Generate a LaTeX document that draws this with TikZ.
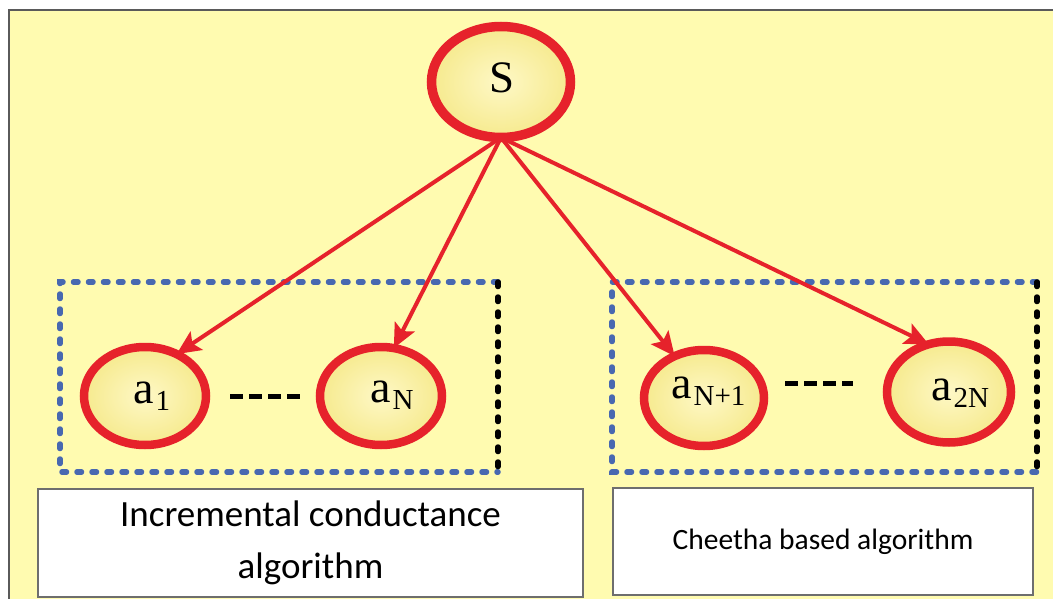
\documentclass[tikz,border=0pt]{standalone}
\usepackage{fontspec}
\setmainfont{Liberation Serif}
\newfontfamily\calibfont{Carlito}
\usetikzlibrary{shapes.geometric,arrows.meta}

\definecolor{bgyellow}{HTML}{FFFBB0}
\definecolor{framegray}{HTML}{5A5A5A}
\definecolor{bubred}{HTML}{E6222B}
\definecolor{bubin}{HTML}{FEF8C6}
\definecolor{bubout}{HTML}{F6EA8E}
\definecolor{groupblue}{HTML}{4868B0}
\definecolor{boxgray}{HTML}{6E6E6E}

\tikzset{
  bubble/.style={ellipse, draw=bubred, inner color=bubin, outer color=bubout,
                 inner sep=0pt, outer sep=0pt},
  lab/.style={anchor=base west, inner sep=0pt, font=\fontsize{46}{46}\selectfont},
  arr/.style={draw=bubred, line width=4pt,
              -{Stealth[length=24pt,width=22pt,inset=5pt]}},
  groupedge/.style={draw=groupblue, line width=5.5pt, line cap=round,
                    dash pattern=on 4.5pt off 10.5pt},
  groupside/.style={draw=black, line width=5.5pt, line cap=round,
                    dash pattern=on 4.5pt off 10.5pt},
  ellipsis/.style={draw=black, line width=5pt, dash pattern=on 13pt off 6pt},
  algbox/.style={rectangle, draw=boxgray, line width=2pt, fill=white,
                 inner sep=0pt, align=center}
}

\newcommand{\subtxt}[1]{\kern2pt\raisebox{-7pt}{\fontsize{29}{29}\selectfont #1}}

\begin{document}
\begin{tikzpicture}[x=1pt,y=-1pt]
\useasboundingbox (0,0) rectangle (1053,599);
\fill[white] (0,0) rectangle (1053,599);

% outer panel
\draw[fill=bgyellow, draw=framegray, line width=2.5pt] (9,10) rectangle (1075,625);

% group frames
\draw[groupedge] (498,282) -- (60,282) -- (60,472) -- (498,472);
\draw[groupside] (498,282) -- (498,472);
\draw[groupedge] (1037,282) -- (612,282) -- (612,472) -- (1037,472);
\draw[groupside] (1037,282) -- (1037,472);

% source node
\node[bubble, line width=9.5pt, minimum width=139pt, minimum height=111pt] (S) at (501,82) {};
\node[anchor=base, inner sep=0pt, font=\fontsize{45}{45}\selectfont] (Slab) at (502,93) {S};

% agent nodes
\node[bubble, line width=8.5pt, minimum width=122pt, minimum height=98pt] (a1) at (145,396) {};
\node[bubble, line width=8.5pt, minimum width=122pt, minimum height=98pt] (aN) at (381,396) {};
\node[bubble, line width=8.5pt, minimum width=120pt, minimum height=96pt] (aN1) at (704,398) {};
\node[bubble, line width=8.5pt, minimum width=124pt, minimum height=101pt] (a2N) at (949,392) {};

\node[lab] (a1lab) at (133,403) {a\subtxt{1}};
\node[lab] (aNlab) at (370,402) {a\subtxt{N}};
\node[lab] (aN1lab) at (671,398) {a\subtxt{N+1}};
\node[lab] (a2Nlab) at (931,400) {a\subtxt{2N}};

% ellipsis marks between agents
\draw[ellipsis] (230,396) -- (300,396);
\draw[ellipsis] (785,383) -- (853,383);

% connectors from the source
\draw[arr] (S.south) -- (a1.53);
\draw[arr] (S.south) -- (aN.75);
\draw[arr] (S.south) -- (aN1.125);
\draw[arr] (S.south) -- (a2N.113);

% algorithm boxes
\node[algbox, minimum width=545pt, minimum height=108pt,
      font=\calibfont\fontsize{37}{52}\selectfont] (inc) at (310.5,543)
      {Incremental conductance\\algorithm};
\node[algbox, minimum width=420pt, minimum height=107pt,
      font=\calibfont\fontsize{29.5}{36}\selectfont] (chee) at (823,541.5)
      {Cheetha based algorithm};
\end{tikzpicture}
\end{document}
